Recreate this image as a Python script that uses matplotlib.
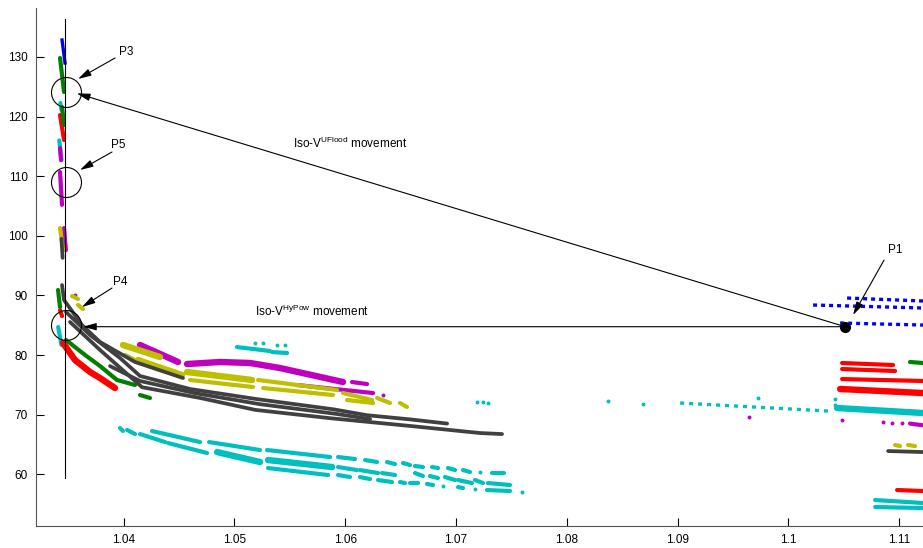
import matplotlib as mpl
import matplotlib.pyplot as plt

mpl.rcParams['font.family'] = 'Liberation Sans'
mpl.rcParams['mathtext.fontset'] = 'custom'
mpl.rcParams['mathtext.rm'] = 'Liberation Sans'
mpl.rcParams['mathtext.it'] = 'Liberation Sans:italic'

# ---- point streaks, one polyline per streak ----
# dark grey
gray_x = [[1.03445, 1.03463, 1.03625, 1.03788, 1.04104, 1.04537],
          [1.03481, 1.03698, 1.03968, 1.04149, 1.046, 1.05205, 1.05891, 1.06198, 1.06586, 1.0692],
          [1.03517, 1.03788, 1.04167, 1.0469, 1.05187, 1.05864, 1.06586, 1.07217, 1.07416],
          [1.03878, 1.04149, 1.04645, 1.05232, 1.05909, 1.06225],
          [1.109, 1.11215],
          [1.0344, 1.0345]]
gray_y = [[91.74, 89.23, 85.03, 82.18, 78.83, 76.14],
          [87.21, 83.36, 79.5, 76.48, 74.3, 72.6, 70.9, 69.9, 69.2, 68.5],
          [85.54, 80.84, 74.6, 72.8, 70.8, 69.4, 68.1, 66.91, 66.74],
          [78.15, 75.64, 73.6, 71.75, 70.15, 69.26],
          [63.89, 63.72],
          [99.5, 96.3]]

# olive
olive_x = [[1.03995, 1.04329], [1.04014, 1.04104], [1.04131, 1.04528],
           [1.04573, 1.0516], [1.046, 1.05169], [1.05214, 1.05927],
           [1.0526, 1.05891], [1.05981, 1.06243], [1.06017, 1.06252],
           [1.06288, 1.06405], [1.06495, 1.06558], [1.03535, 1.03589],
           [1.03589, 1.03634], [1.03427, 1.03454], [1.10963, 1.11008],
           [1.1108, 1.11143]]
olive_y = [[81.68, 79.66], [80.0, 79.16], [79.16, 76.64],
           [77.15, 75.81], [75.81, 74.63], [75.81, 74.13],
           [74.46, 73.29], [73.62, 72.45], [72.45, 71.95],
           [72.79, 71.95], [71.95, 71.28], [89.9, 89.4],
           [88.39, 87.72], [101.3, 97.6], [64.9, 64.73],
           [64.9, 64.73]]

# magenta
magenta_x = [[1.04149, 1.04492],
             [1.04573, 1.04871, 1.05142, 1.05412, 1.05981],
             [1.06062, 1.06198], [1.05566, 1.06252],
             [1.11098, 1.11215], [1.03427, 1.03445], [1.03427, 1.03436],
             [1.03463, 1.0348]]
magenta_y = [[81.68, 78.83],
             [78.49, 78.83, 78.66, 77.82, 75.47],
             [75.47, 75.13], [74.97, 73.62],
             [68.5, 68.2], [110.7, 105.2], [114.7, 112.7],
             [101.3, 97.6]]
magenta_dot_x = [1.06342, 1.09646, 1.10485, 1.10855, 1.10936, 1.11026, 1.03562]
magenta_dot_y = [73.29, 69.6, 69.09, 68.76, 68.59, 68.59, 90.07]

# cyan
cyan_x = [[1.03968, 1.03995], [1.04032, 1.04104], [1.04149, 1.04375],
          [1.04257, 1.0469], [1.04402, 1.04754], [1.04772, 1.05232],
          [1.04844, 1.05232], [1.05295, 1.05864], [1.05304, 1.05882],
          [1.05304, 1.05846], [1.05936, 1.06089], [1.05936, 1.06107],
          [1.05936, 1.06044], [1.0618, 1.06288], [1.06134, 1.06297],
          [1.06134, 1.06225], [1.06378, 1.0645], [1.06333, 1.0645],
          [1.06297, 1.06423], [1.06522, 1.06586], [1.06495, 1.0654],
          [1.0663, 1.06702], [1.0663, 1.06702], [1.06586, 1.06657],
          [1.06784, 1.06838], [1.06765, 1.06838], [1.06739, 1.06793],
          [1.06928, 1.06992], [1.06901, 1.06992], [1.07064, 1.07127],
          [1.07019, 1.07145], [1.07019, 1.07064], [1.07172, 1.07244],
          [1.07326, 1.07434], [1.07289, 1.07488], [1.0728, 1.07488],
          [1.05024, 1.05322], [1.0534, 1.05476],
          [1.1044, 1.11215], [1.10783, 1.11215], [1.10783, 1.11215],
          [1.0341, 1.0344], [1.0343, 1.0344], [1.0342, 1.0344]]
cyan_y = [[67.75, 67.25], [67.42, 66.74], [66.74, 65.4],
          [67.25, 65.4], [65.23, 63.56], [65.4, 64.06],
          [63.72, 62.05], [64.06, 62.89], [62.38, 61.21],
          [61.04, 59.87], [62.89, 62.55], [61.21, 60.7],
          [59.87, 59.53], [62.38, 62.05], [60.7, 60.2],
          [59.53, 59.19], [62.05, 61.71], [60.2, 59.87],
          [59.03, 58.69], [61.88, 61.54], [58.69, 58.52],
          [61.38, 61.21], [60.2, 59.7], [58.52, 58.52],
          [61.21, 61.04], [59.7, 59.36], [58.36, 58.19],
          [61.04, 60.7], [59.53, 59.03], [60.7, 60.37],
          [59.03, 58.52], [57.85, 57.68], [59.03, 58.52],
          [60.2, 60.2], [58.52, 58.19], [57.35, 57.18],
          [81.34, 80.67], [80.5, 80.34],
          [71.11, 70.27], [55.67, 55.17], [54.5, 54.33],
          [84.7, 81.68], [122.28, 121.1], [116.0, 112.7]]
cyan_sparse_x = [1.09023, 1.10359]
cyan_sparse_y = [71.95, 70.6]
cyan_dot_x = [1.06883, 1.07217, 1.07172, 1.07597, 1.05187, 1.0526, 1.05385,
              1.05458, 1.0719, 1.07244, 1.07289, 1.08373, 1.08689, 1.09727,
              1.10422, 1.10422]
cyan_dot_y = [58.02, 60.37, 57.52, 57.01, 82.01, 82.01, 81.68,
              81.68, 72.11, 72.11, 71.95, 72.28, 71.78, 72.79,
              72.62, 71.61]

# red
red_x = [[1.03454, 1.03562, 1.03698, 1.03788, 1.03923],
         [1.03427, 1.03445], [1.03427, 1.03463],
         [1.10485, 1.10945], [1.10485, 1.10963], [1.10485, 1.11215],
         [1.10467, 1.11215], [1.10981, 1.11215]]
red_y = [[82.01, 79.16, 77.15, 76.14, 74.46],
         [87.55, 86.54], [120.27, 116.07],
         [78.66, 78.32], [77.65, 77.32], [75.97, 75.64],
         [74.3, 73.62], [57.35, 57.18]]

# green
green_x = [[1.03481, 1.03653, 1.03788, 1.03941, 1.04104],
           [1.04149, 1.04239], [1.03409, 1.03427],
           [1.03427, 1.03463], [1.03445, 1.03463], [1.11098, 1.11215]]
green_y = [[82.52, 80.0, 78.15, 75.81, 74.97],
           [73.29, 72.79], [90.91, 88.05],
           [129.83, 124.13], [121.61, 118.59], [78.83, 78.66]]

# blue
blue_x = [[1.03445, 1.03472], [1.10223, 1.11215], [1.1053, 1.11215],
          [1.10467, 1.11215]]
blue_y = [[132.85, 128.99], [88.39, 87.89], [89.56, 89.06],
          [85.37, 85.03]]

# ---- annotation points ----
p1 = (1.10512, 84.75)
circle_x = [1.0348, 1.0348, 1.0348]
circle_y = [124.2, 108.95, 85.0]
vline_x = 1.03472
vline_y = [59.36, 136.4]

xticks = [1.04, 1.05, 1.06, 1.07, 1.08, 1.09, 1.1, 1.11]
xticklabels = ['1.04', '1.05', '1.06', '1.07', '1.08', '1.09', '1.1', '1.11']
yticks = [60, 70, 80, 90, 100, 110, 120, 130]

fig = plt.figure(figsize=(9.23, 5.48), dpi=100)
ax = fig.add_axes([0.039, 0.0401, 0.961, 0.9453])

cols = {'gray': '#404040', 'olive': '#bfbf00', 'magenta': '#bf00bf',
        'cyan': '#00bfbf', 'red': '#ff0000', 'green': '#008000', 'blue': '#0000ff'}

lw = 3.0
# the few wide bands in the picture
wide = {('magenta', 0), ('magenta', 1), ('cyan', 6), ('cyan', 8), ('cyan', 38),
        ('red', 0), ('red', 6), ('olive', 0), ('olive', 2), ('olive', 3)}


def draw(name, xs_list, ys_list, base=lw):
    for i, (xs, ys) in enumerate(zip(xs_list, ys_list)):
        w = 4.6 if (name, i) in wide else base
        ax.plot(xs, ys, color=cols[name], lw=w, solid_capstyle='round')


draw('cyan', cyan_x, cyan_y)
ax.plot(cyan_sparse_x, cyan_sparse_y, color=cols['cyan'], lw=2.4, ls=(0, (1.2, 1.5)))
ax.scatter(cyan_dot_x, cyan_dot_y, s=8, color=cols['cyan'], lw=0)
draw('red', red_x, red_y)
draw('green', green_x, green_y)
draw('magenta', magenta_x, magenta_y)
ax.scatter(magenta_dot_x, magenta_dot_y, s=8, color=cols['magenta'], lw=0)
draw('olive', olive_x, olive_y)
draw('gray', gray_x, gray_y, base=2.7)
for i, (xs, ys) in enumerate(zip(blue_x, blue_y)):
    ax.plot(xs, ys, color=cols['blue'], lw=2.4,
            ls='-' if i == 0 else (0, (1.2, 1.2)))

# vertical reference line and circles
ax.plot([vline_x, vline_x], vline_y, color='k', lw=0.8)
ax.plot(circle_x, circle_y, 'o', mfc='none', mec='k', ms=21.6, mew=0.8)
ax.plot(*p1, 'o', color='k', ms=7)

arrow = dict(arrowstyle='-|>,head_length=0.8,head_width=0.22', color='k',
             lw=0.8, shrinkA=0, shrinkB=0)
ax.annotate('', xy=(1.03578, 123.9), xytext=p1, arrowprops=arrow)
ax.annotate('', xy=(1.03634, 84.75), xytext=p1, arrowprops=arrow)
ax.annotate('', xy=(1.03589, 126.31), xytext=(1.03923, 129.83), arrowprops=arrow)
ax.annotate('', xy=(1.03607, 111.04), xytext=(1.03896, 114.06), arrowprops=arrow)
ax.annotate('', xy=(1.03625, 88.05), xytext=(1.03896, 91.24), arrowprops=arrow)
ax.annotate('', xy=(1.10584, 86.71), xytext=(1.10864, 95.94), arrowprops=arrow)

fs = 8.5
ax.text(1.04023, 130.84, 'P3', fontsize=fs, ha='center', va='center')
ax.text(1.03951, 115.2, 'P5', fontsize=fs, ha='center', va='center')
ax.text(1.03968, 92.3, 'P4', fontsize=fs, ha='center', va='center')
ax.text(1.10963, 97.62, 'P1', fontsize=fs, ha='center', va='center')
ax.text(1.06044, 115.57, r'Iso-V$^{\mathrm{UFlood}}$ movement', fontsize=fs,
        ha='center', va='center')
ax.text(1.05701, 87.4, r'Iso-V$^{\mathrm{HyPow}}$ movement', fontsize=fs,
        ha='center', va='center')

ax.set_xlim(1.0321, 1.11215)
ax.set_ylim(51.31, 138.22)
ax.set_xticks(xticks)
ax.set_xticklabels(xticklabels)
ax.set_yticks(yticks)
ax.tick_params(direction='in', length=6, width=0.8, labelsize=fs, colors='k', pad=6)
for s in ['top', 'right']:
    ax.spines[s].set_visible(False)
for s in ['left', 'bottom']:
    ax.spines[s].set_color('#555555')
    ax.spines[s].set_linewidth(0.8)

fig.savefig('out.png', dpi=100)
